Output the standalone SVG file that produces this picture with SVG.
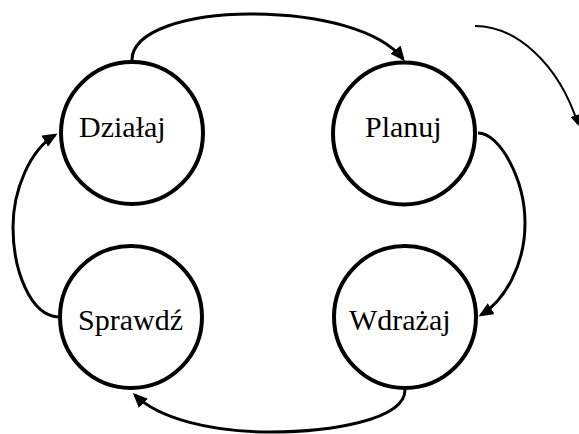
<svg xmlns="http://www.w3.org/2000/svg" width="579" height="434" viewBox="0 0 579 434">
<style>
.node ellipse{fill:#fff;stroke:#000;stroke-width:4}
.node text{font-family:"Liberation Serif","Times New Roman",serif;font-size:30px;fill:#000}
.conn{fill:none;stroke:#000;stroke-width:3}
.thin{fill:none;stroke:#000;stroke-width:2}
</style>
<defs>
<marker id="ah" markerUnits="userSpaceOnUse" markerWidth="16" markerHeight="13" refX="12" refY="6.5" orient="auto">
<path d="M0,0 L15,6.5 L0,13 z" fill="#000"/>
</marker>
<marker id="ahs" markerUnits="userSpaceOnUse" markerWidth="12" markerHeight="10" refX="9" refY="5" orient="auto">
<path d="M0,0 L11,5 L0,10 z" fill="#000"/>
</marker>
</defs>
<rect width="579" height="434" fill="#fff"/>
<g id="dzialaj" class="node">
<ellipse cx="132" cy="133" rx="71" ry="71"/>
<text x="79" y="137">Działaj</text>
</g>
<g id="planuj" class="node">
<ellipse cx="404" cy="133.5" rx="71" ry="71"/>
<text x="365" y="137">Planuj</text>
</g>
<g id="sprawdz" class="node">
<ellipse cx="131" cy="317" rx="71" ry="71"/>
<text x="78" y="330">Sprawdź</text>
</g>
<g id="wdrazaj" class="node">
<ellipse cx="405" cy="317" rx="71" ry="71"/>
<text x="349" y="330">Wdrażaj</text>
</g>
<g id="connectors">
<path class="conn" d="M132,62 C130,30 190,14 250,14 C320,14 380,30 403,59" marker-end="url(#ah)"/>
<path class="conn" d="M478,133 C500,133 525,180 525,223 C525,265 505,300 481,315" marker-end="url(#ah)"/>
<path class="conn" d="M405,390 C405,420 330,432 270,432 C210,432 158,418 135,395" marker-end="url(#ah)"/>
<path class="conn" d="M58,317 C30,315 13,270 13,227 C13,190 30,150 55,135" marker-end="url(#ah)"/>
<path class="thin" d="M475,26 C515,26 558,62 578,124" marker-end="url(#ahs)"/>
</g>
</svg>
